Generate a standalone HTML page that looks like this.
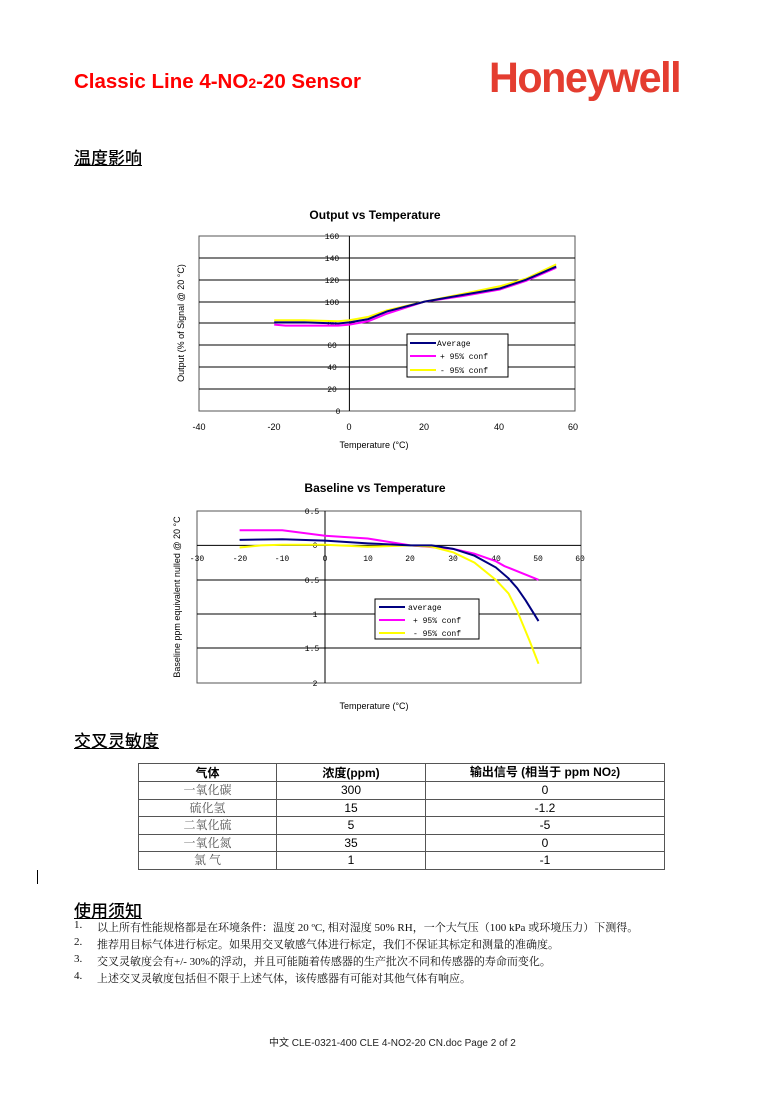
<!DOCTYPE html>
<html><head><meta charset="utf-8"><style>
body{margin:0;width:774px;height:1095px;background:#fff;position:relative;overflow:hidden;font-family:"Liberation Sans","Noto Sans CJK SC",sans-serif}
.a{position:absolute;white-space:nowrap}
.h{font-size:17px;text-decoration:underline;color:#000;font-weight:500}
.li{font-family:"Liberation Serif","Noto Serif CJK SC",serif;font-size:11px;color:#111}
table{border-collapse:collapse;position:absolute;left:138px;top:763px;width:527px;font-size:12px}
td{border:1px solid #555;text-align:center;height:16.5px;padding:0;line-height:16px}
td.c{color:#555;font-family:"Liberation Serif","Noto Serif CJK SC",serif}
</style></head><body>
<div class="a" style="left:74px;top:70px;font-size:20.5px;font-weight:bold;color:#f00">Classic Line 4-NO<span style="font-size:14px">2</span>-20 Sensor</div>
<div class="a" style="left:489px;top:54px;font-size:43px;font-weight:bold;color:#e43d30;letter-spacing:-1.5px;transform:scaleX(0.96);transform-origin:left">Honeywell</div>
<div class="a h" style="left:74px;top:144px">温度影响</div>
<div class="a h" style="left:74px;top:727px">交叉灵敏度</div>
<div class="a h" style="left:74px;top:897px">使用须知</div>
<div style="position:absolute;left:37px;top:870px;width:1px;height:14px;background:#000"></div>
<svg class="a" style="left:0;top:0" width="774" height="720" font-family="Liberation Sans,sans-serif">
<text x="375" y="219" font-size="12" font-weight="bold" text-anchor="middle">Output vs Temperature</text>
<rect x="199" y="236" width="376" height="175" fill="#fff" stroke="#555"/>
<g stroke="#000" stroke-width="1">
<line x1="199" x2="575" y1="258" y2="258"/><line x1="199" x2="575" y1="280" y2="280"/><line x1="199" x2="575" y1="302" y2="302"/><line x1="199" x2="575" y1="323" y2="323"/><line x1="199" x2="575" y1="345" y2="345"/><line x1="199" x2="575" y1="367" y2="367"/><line x1="199" x2="575" y1="389" y2="389"/>
<line x1="349.4" x2="349.4" y1="236" y2="411"/></g>
<g font-size="8" text-anchor="middle" font-family="Liberation Mono,monospace">
<text x="332" y="239">160</text><text x="332" y="261">140</text><text x="332" y="283">120</text><text x="332" y="305">100</text><text x="332" y="326">80</text><text x="332" y="348">60</text><text x="332" y="370">40</text><text x="332" y="392">20</text><text x="338" y="414">0</text></g>
<g font-size="9" text-anchor="middle"><text x="199" y="430">-40</text><text x="274" y="430">-20</text><text x="349" y="430">0</text><text x="424" y="430">20</text><text x="499" y="430">40</text><text x="573" y="430">60</text></g>
<text x="374" y="448" font-size="9" text-anchor="middle">Temperature (°C)</text>
<text transform="translate(184,323) rotate(-90)" font-size="9" text-anchor="middle">Output (% of Signal @ 20 °C)</text>
<g fill="none" stroke-width="2" transform="matrix(3.76 0 0 -1.094 349.4 411)">
<polyline vector-effect="non-scaling-stroke" stroke="#ff00ff" points="-20,79 -17,78 -12,78 -3,78 0,79 5,82 10,89 20,100 30,105 40,111 47,119 55,131"/>
<polyline vector-effect="non-scaling-stroke" stroke="#ffff00" points="-20,83 -17,83 -12,83 -3,82 0,83 5,86 10,92 20,100 30,107 40,114 47,121 55,134"/>
<polyline vector-effect="non-scaling-stroke" stroke="#000080" points="-20,81 -17,81 -12,81 -3,80 0,81 5,84 10,91 20,100 30,106 40,112 47,120 55,132"/>
</g>
<rect x="407" y="334" width="101" height="43" fill="#fff" stroke="#000"/>
<line x1="410" x2="436" y1="343" y2="343" stroke="#000080" stroke-width="2"/>
<line x1="410" x2="436" y1="356" y2="356" stroke="#ff00ff" stroke-width="2"/>
<line x1="410" x2="436" y1="370" y2="370" stroke="#ffff00" stroke-width="2"/>
<g font-size="8" font-family="Liberation Mono,monospace"><text x="437" y="346">Average</text><text x="440" y="359">+ 95% conf</text><text x="440" y="373">- 95% conf</text></g>

<text x="375" y="492" font-size="12" font-weight="bold" text-anchor="middle">Baseline vs Temperature</text>
<rect x="197" y="511" width="384" height="172" fill="#fff" stroke="#555"/>
<g stroke="#000"><line x1="197" x2="581" y1="545.4" y2="545.4"/><line x1="197" x2="581" y1="580" y2="580"/><line x1="197" x2="581" y1="614" y2="614"/><line x1="197" x2="581" y1="648" y2="648"/><line x1="325" x2="325" y1="511" y2="683"/></g>
<g font-size="8" text-anchor="middle" font-family="Liberation Mono,monospace"><text x="312" y="514">0.5</text><text x="315" y="548">0</text><text x="312" y="583">0.5</text><text x="315" y="617">1</text><text x="312" y="651">1.5</text><text x="315" y="686">2</text>
<text x="197" y="561">-30</text><text x="240" y="561">-20</text><text x="282" y="561">-10</text><text x="325" y="561">0</text><text x="368" y="561">10</text><text x="410" y="561">20</text><text x="453" y="561">30</text><text x="496" y="561">40</text><text x="538" y="561">50</text><text x="580" y="561">60</text></g>
<text x="374" y="709" font-size="9" text-anchor="middle">Temperature (°C)</text>
<text transform="translate(180,597) rotate(-90)" font-size="9" text-anchor="middle">Baseline ppm equivalent nulled @ 20 °C</text>
<g fill="none" stroke-width="2" transform="matrix(4.27 0 0 -68.8 325 545.4)">
<polyline vector-effect="non-scaling-stroke" stroke="#ff00ff" points="-20,0.22 -10,0.22 0,0.14 10,0.1 20,0 30,-0.05 35,-0.12 40,-0.23 42,-0.3 50,-0.5"/>
<polyline vector-effect="non-scaling-stroke" stroke="#ffff00" points="-20,-0.03 -15,0 -10,0.01 0,0.01 10,-0.02 20,0 25,-0.02 30,-0.1 35,-0.25 40,-0.5 43,-0.7 45,-0.95 48,-1.4 50,-1.72"/>
<polyline vector-effect="non-scaling-stroke" stroke="#000080" points="-20,0.08 -10,0.09 0,0.07 10,0.03 20,0 25,0 30,-0.05 35,-0.15 40,-0.32 43,-0.48 45,-0.62 47,-0.8 50,-1.1"/>
</g>
<rect x="375" y="599" width="104" height="40" fill="#fff" stroke="#000"/>
<line x1="379" x2="405" y1="607" y2="607" stroke="#000080" stroke-width="2"/>
<line x1="379" x2="405" y1="620" y2="620" stroke="#ff00ff" stroke-width="2"/>
<line x1="379" x2="405" y1="633" y2="633" stroke="#ffff00" stroke-width="2"/>
<g font-size="8" font-family="Liberation Mono,monospace"><text x="408" y="610">average</text><text x="413" y="623">+ 95% conf</text><text x="413" y="636">- 95% conf</text></g>
</svg>
<table>
<tr><td style="width:137px;font-weight:bold">气体</td><td style="width:148px;font-weight:bold">浓度(ppm)</td><td style="font-weight:bold">输出信号 (相当于 ppm NO<span style="font-size:9px">2</span>)</td></tr>
<tr><td class="c">一氧化碳</td><td>300</td><td>0</td></tr>
<tr><td class="c">硫化氢</td><td>15</td><td>-1.2</td></tr>
<tr><td class="c">二氧化硫</td><td>5</td><td>-5</td></tr>
<tr><td class="c">一氧化氮</td><td>35</td><td>0</td></tr>
<tr><td class="c">氯 气</td><td>1</td><td>-1</td></tr>
</table>
<div class="a li" style="left:74px;top:919px">1.</div><div class="a li" style="left:97px;top:919px">以上所有性能规格都是在环境条件：温度 20 ºC, 相对湿度 50% RH，一个大气压（100 kPa 或环境压力）下测得。</div>
<div class="a li" style="left:74px;top:936px">2.</div><div class="a li" style="left:97px;top:936px">推荐用目标气体进行标定。如果用交叉敏感气体进行标定，我们不保证其标定和测量的准确度。</div>
<div class="a li" style="left:74px;top:953px">3.</div><div class="a li" style="left:97px;top:953px">交叉灵敏度会有+/- 30%的浮动，并且可能随着传感器的生产批次不同和传感器的寿命而变化。</div>
<div class="a li" style="left:74px;top:970px">4.</div><div class="a li" style="left:97px;top:970px">上述交叉灵敏度包括但不限于上述气体，该传感器有可能对其他气体有响应。</div>
<div class="a" style="left:269px;top:1034px;font-size:10px;color:#222">中文 CLE-0321-400 CLE 4-NO2-20 CN.doc Page 2 of 2</div>
</body></html>
